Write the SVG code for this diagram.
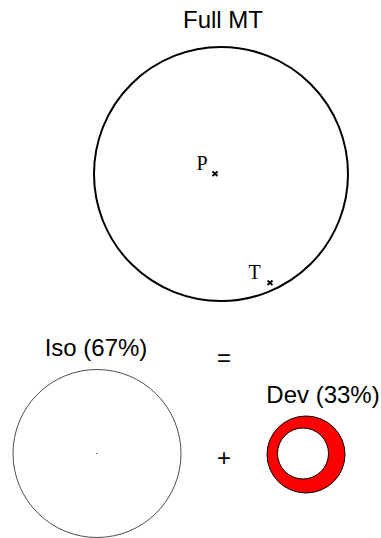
<svg xmlns="http://www.w3.org/2000/svg" width="381" height="538" viewBox="0 0 381 538">
<style>
.lbl{font-family:"Liberation Sans",Arial,sans-serif;font-size:24px;fill:#000}
.ser{font-family:"Liberation Serif","Times New Roman",serif;font-size:20px;fill:#000}
.x{stroke:#000;stroke-width:1.9}
</style>
<rect width="381" height="538" fill="#fff"/>
<g id="full">
<circle cx="221" cy="174" r="127" fill="none" stroke="#000" stroke-width="2"/>
<text class="lbl" x="223" y="28" text-anchor="middle">Full MT</text>
<text class="ser" x="196.5" y="170">P</text>
<path class="x" d="M212.5 171.5l5 4.5M217.5 171.5l-5 4.5"/>
<text class="ser" x="248.5" y="279">T</text>
<path class="x" d="M267.5 280.5l5 4.5M272.5 280.5l-5 4.5"/>
</g>
<g id="iso">
<circle cx="97" cy="453.5" r="84" fill="#fff" stroke="#000" stroke-width="0.7"/>
<rect x="96.5" y="453" width="1" height="1" fill="#000"/>
<text class="lbl" x="96" y="356" text-anchor="middle">Iso (67%)</text>
</g>
<g id="ops">
<text class="lbl" x="224" y="366" text-anchor="middle">=</text>
<text class="lbl" x="224" y="466" text-anchor="middle">+</text>
</g>
<g id="dev">
<path d="M267 454.5a39 38.5 0 1 0 78 0a39 38.5 0 1 0 -78 0ZM277.5 453.5a25.5 25.5 0 1 1 51 0a25.5 25.5 0 1 1 -51 0Z" fill="#f00" fill-rule="evenodd" stroke="#000" stroke-width="1"/>
<text class="lbl" x="323" y="403" text-anchor="middle">Dev (33%)</text>
</g>
</svg>
